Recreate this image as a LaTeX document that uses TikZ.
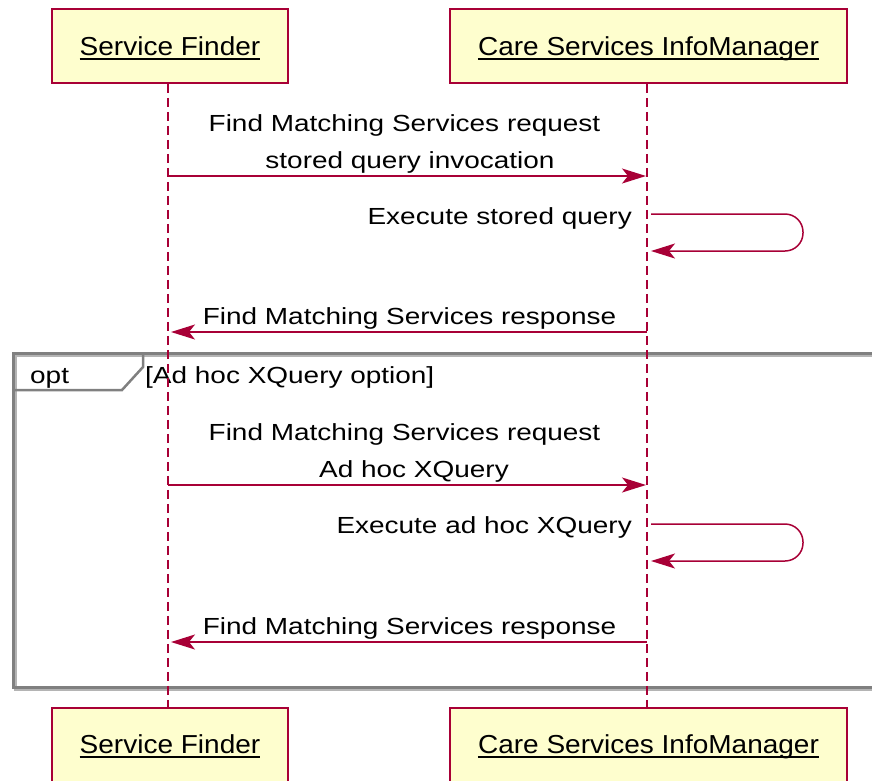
\documentclass[tikz,border=0pt]{standalone}
\usepackage{fontspec}
\setmainfont{Liberation Sans}
\newfontfamily\msgfont{Liberation Sans}[FakeStretch=1.2]
\newfontfamily\boxfont{Liberation Sans}[FakeStretch=1.077]
\usetikzlibrary{arrows.meta}
\definecolor{umlred}{HTML}{A80036}
\definecolor{umlfill}{HTML}{FEFECE}
\definecolor{framegray}{HTML}{808080}
\definecolor{shadowgray}{HTML}{B4B4B4}
\begin{document}
\begin{tikzpicture}[x=1pt,y=-1pt,
  box/.style={draw=umlred, fill=umlfill, line width=1.5pt, minimum height=74pt, inner sep=0pt},
  boxtext/.style={font=\boxfont\fontsize{26}{30}\selectfont, inner sep=0pt, anchor=base},
  msgtext/.style={font=\msgfont\fontsize{23.3}{28}\selectfont, inner sep=0pt, anchor=base},
  life/.style={draw=umlred, line width=1.2pt, dash pattern=on 9pt off 5pt},
  msg/.style={draw=umlred, line width=1.5pt, -{Stealth[length=24pt,width=15pt,inset=6pt]}},
  frame/.style={draw=framegray, line width=3pt},
  shadow/.style={draw=shadowgray, line width=3pt},
  ul/.style={line width=1.5pt}]
\useasboundingbox (0,0) rectangle (872,780);
\clip (0,0) rectangle (872,780);

% opt frame
\draw[shadow] (15,355) rectangle (887,689);
\draw[frame] (13,353) rectangle (885,687);
\draw[frame, line width=2.5pt] (13,390) -- (122,390) -- (143,367) -- (143,353);
\node[msgtext, anchor=base west] (optl) at (30,383) {opt};
\node[msgtext, anchor=base west] (optc) at (145,383) {[Ad hoc XQuery option]};

% participants
\node[box, minimum width=236pt] (sf) at (170,46) {};
\node[box, minimum width=397pt] (cm) at (648.5,46) {};
\node[box, minimum width=236pt] (sfb) at (170,745) {};
\node[box, minimum width=397pt] (cmb) at (648.5,745) {};

\node[boxtext] (sft) at (170,55) {Service Finder};
\node[boxtext] (cmt) at (648.5,55) {Care Services InfoManager};
\node[boxtext] (sfbt) at (170,753) {Service Finder};
\node[boxtext] (cmbt) at (648.5,753) {Care Services InfoManager};
\foreach \t in {sft,cmt,sfbt,cmbt}
  \draw[ul] ([yshift=-3.8pt]\t.base west) -- ([yshift=-3.8pt]\t.base east);

% lifelines
\draw[life] ([xshift=-2pt]sf.south) -- ([xshift=-2pt]sfb.north);
\draw[life] ([xshift=-1.5pt]cm.south) -- ([xshift=-1.5pt]cmb.north);

% message 1
\coordinate (m1a) at (168,176);
\coordinate (m1b) at (647,176);
\draw[msg, shorten >=1pt] (m1a) -- (m1b);
\node[msgtext] (m1t1) at (404.5,131) {Find Matching Services request};
\node[msgtext] (m1t2) at (410,168) {stored query invocation};

% self message 1
\coordinate (s1a) at (651,214);
\coordinate (s1b) at (651,251);
\draw[msg, rounded corners=18pt] (s1a) -- (803,214) -- (803,251) -- (s1b);
\node[msgtext, anchor=base east] (s1t) at (632,224) {Execute stored query};

% message 3
\coordinate (m3a) at (647,332);
\coordinate (m3b) at (168,332);
\draw[msg, shorten >=3pt] (m3a) -- (m3b);
\node[msgtext] (m3t) at (409.5,324) {Find Matching Services response};

% message 4
\coordinate (m4a) at (168,485);
\coordinate (m4b) at (647,485);
\draw[msg, shorten >=1pt] (m4a) -- (m4b);
\node[msgtext] (m4t1) at (404.5,440) {Find Matching Services request};
\node[msgtext] (m4t2) at (414,477) {Ad hoc XQuery};

% self message 2
\coordinate (s2a) at (651,524);
\coordinate (s2b) at (651,561);
\draw[msg, rounded corners=18pt] (s2a) -- (803,524) -- (803,561) -- (s2b);
\node[msgtext, anchor=base east] (s2t) at (632,533) {Execute ad hoc XQuery};

% message 6
\coordinate (m6a) at (647,642);
\coordinate (m6b) at (168,642);
\draw[msg, shorten >=3pt] (m6a) -- (m6b);
\node[msgtext] (m6t) at (409.5,634) {Find Matching Services response};
\end{tikzpicture}
\end{document}
